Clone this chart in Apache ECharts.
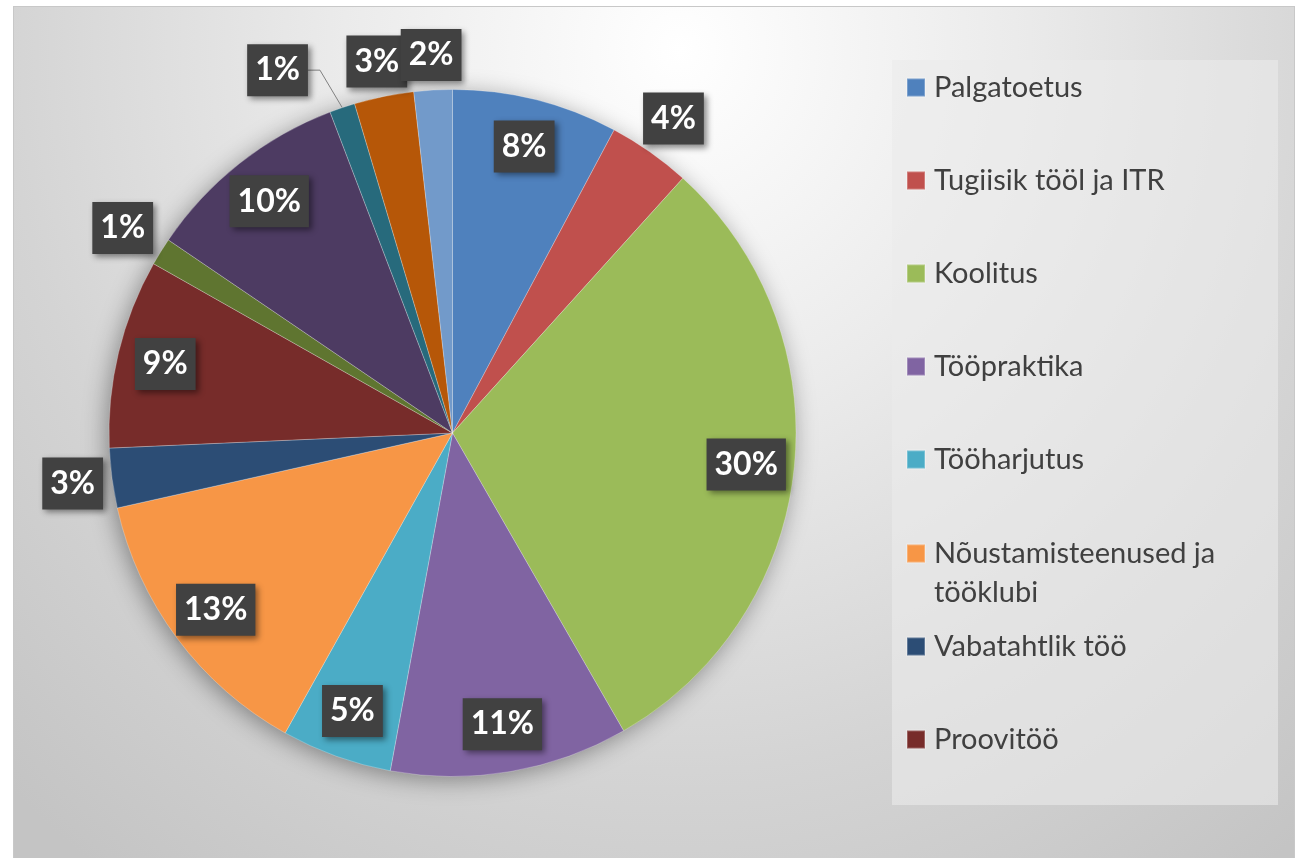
<!DOCTYPE html>
<html>
<head>
<meta charset="utf-8">
<script src="https://cdn.jsdelivr.net/npm/echarts@6/dist/echarts.min.js"></script>
<style>
    html, body { margin: 0; padding: 0; background: #fff; width: 1295px; height: 858px; overflow: hidden; }
    #main {
        position: absolute; left: 13px; top: 6px;
        width: 1282px; height: 860px;
        box-sizing: border-box;
        border: 1px solid #c8c8c8;
        background: radial-gradient(ellipse 75% 120% at 52% 5%, #ffffff 0%, #ebebeb 35%, #d4d4d4 70%, #c4c4c4 100%);
    }
</style>
</head>
<body>
<div id="main"></div>
<script>
// 数据 (osakaal, %)
const names = ['Palgatoetus', 'Tugiisik tööl ja ITR', 'Koolitus', 'Tööpraktika', 'Tööharjutus',
    'Nõustamisteenused ja tööklubi', 'Vabatahtlik töö', 'Proovitöö', '', '', '', '', '']
const values = [7.8, 3.9, 30.0, 11.2, 5.2, 13.4, 2.8, 8.9, 1.3, 9.7, 1.2, 2.8, 1.8]
const colors = ['#4F81BD', '#C0504D', '#9BBB59', '#8064A2', '#4BACC6', '#F79646', '#2C4D75',
    '#772C2A', '#5F7530', '#4D3B62', '#276A7C', '#B65708', '#729ACA']
// 这些标签在饼图外面
const outsideIdx = [1, 6, 8, 10, 11, 12]

// 饼图的位置
const CX = 438.5, CY = 426, R = 343.5
const total = values.reduce((s, v) => s + v, 0)

let ele = echarts.init(document.getElementById('main'))

const legendText = {
    fontFamily: 'Lato',
    fontSize: 29,
    color: '#404040',
    lineHeight: 18,
    padding: [0, 0, 0, 4]
}

function placeLabel(p) {
    const i = p.dataIndex
    let before = 0
    for (let k = 0; k < i; k++) before += values[k]
    const a = (before + values[i] / 2) / total * Math.PI * 2
    const dx = Math.sin(a), dy = -Math.cos(a)
    const w = p.labelRect.width, h = p.labelRect.height
    let dist
    if (outsideIdx.indexOf(i) >= 0) {
        dist = R + 9 + Math.min(w / 2 / Math.max(Math.abs(dx), 1e-6), h / 2 / Math.max(Math.abs(dy), 1e-6))
    } else {
        dist = R * 0.86
    }
    let x = CX + dist * dx, y = CY + dist * dy
    const out = { x: x, y: y, align: 'center', verticalAlign: 'middle' }
    if (i === 10) {
        // 1% 被挤到左边, 有引导线
        x -= 53
        y -= 3
        out.x = x
        out.y = y
        const edge = x + w / 2
        out.labelLinePoints = [[CX + R * dx, CY + R * dy], [edge + 12, y], [edge, y]]
    }
    return out
}

const option = {
    backgroundColor: 'transparent',
    animation: false,
    color: colors,
    graphic: [
        {
            // 图例背景
            type: 'rect',
            z: 0,
            shape: { x: 878, y: 53, width: 386, height: 745 },
            style: { fill: 'rgba(235,235,235,0.6)' }
        },
        {
            // 饼图阴影
            type: 'circle',
            z: 0,
            shape: { cx: CX, cy: CY, r: R - 1 },
            style: { fill: '#dddddd', shadowBlur: 24, shadowColor: 'rgba(0,0,0,0.4)', shadowOffsetX: -3, shadowOffsetY: 4 }
        }
    ],
    legend: [
        {
            data: names.slice(0, 5),
            orient: 'vertical',
            left: 892,
            top: 66,
            padding: 0,
            itemGap: 64,
            itemWidth: 18,
            itemHeight: 18,
            icon: 'rect',
            selectedMode: false,
            textStyle: legendText
        },
        {
            // 两行的图例, 第一行和图标对齐
            data: names.slice(5, 6),
            orient: 'vertical',
            left: 892,
            top: 488,
            padding: 0,
            itemWidth: 18,
            itemHeight: 18,
            icon: 'rect',
            selectedMode: false,
            formatter: n => '\n' + n.replace('ja ', 'ja\n'),
            textStyle: {
                fontFamily: 'Lato',
                fontSize: 29,
                color: '#404040',
                lineHeight: 39,
                padding: [0, 0, 0, 4],
                backgroundColor: 'rgba(0,0,0,0)'
            }
        },
        {
            data: names.slice(6, 8),
            orient: 'vertical',
            left: 892,
            top: 625,
            padding: 0,
            itemGap: 64,
            itemWidth: 18,
            itemHeight: 18,
            icon: 'rect',
            selectedMode: false,
            textStyle: legendText
        }
    ],
    series: [
        {
            type: 'pie',
            center: [CX, CY],
            radius: [0, R],
            startAngle: 90,
            clockwise: true,
            avoidLabelOverlap: false,
            itemStyle: {
                borderColor: 'rgba(255,255,255,0.25)',
                borderWidth: 1
            },
            label: {
                show: true,
                position: 'outside',
                formatter: p => Math.round(p.percent) + '%',
                fontFamily: 'Lato',
                fontWeight: 'bold',
                fontSize: 32,
                lineHeight: 32,
                color: '#ffffff',
                backgroundColor: '#414141',
                padding: [10, 8],
                shadowColor: 'rgba(0,0,0,0.45)',
                shadowBlur: 6,
                shadowOffsetX: 3,
                shadowOffsetY: 3
            },
            labelLine: {
                show: false,
                lineStyle: { color: '#7f7f7f', width: 1 }
            },
            labelLayout: placeLabel,
            data: values.map((v, i) => {
                const item = { value: v, name: names[i] }
                if (i === 10) item.labelLine = { show: true, lineStyle: { color: '#7f7f7f', width: 1 } }
                return item
            })
        }
    ]
}

ele.setOption(option)
</script>
</body>
</html>
